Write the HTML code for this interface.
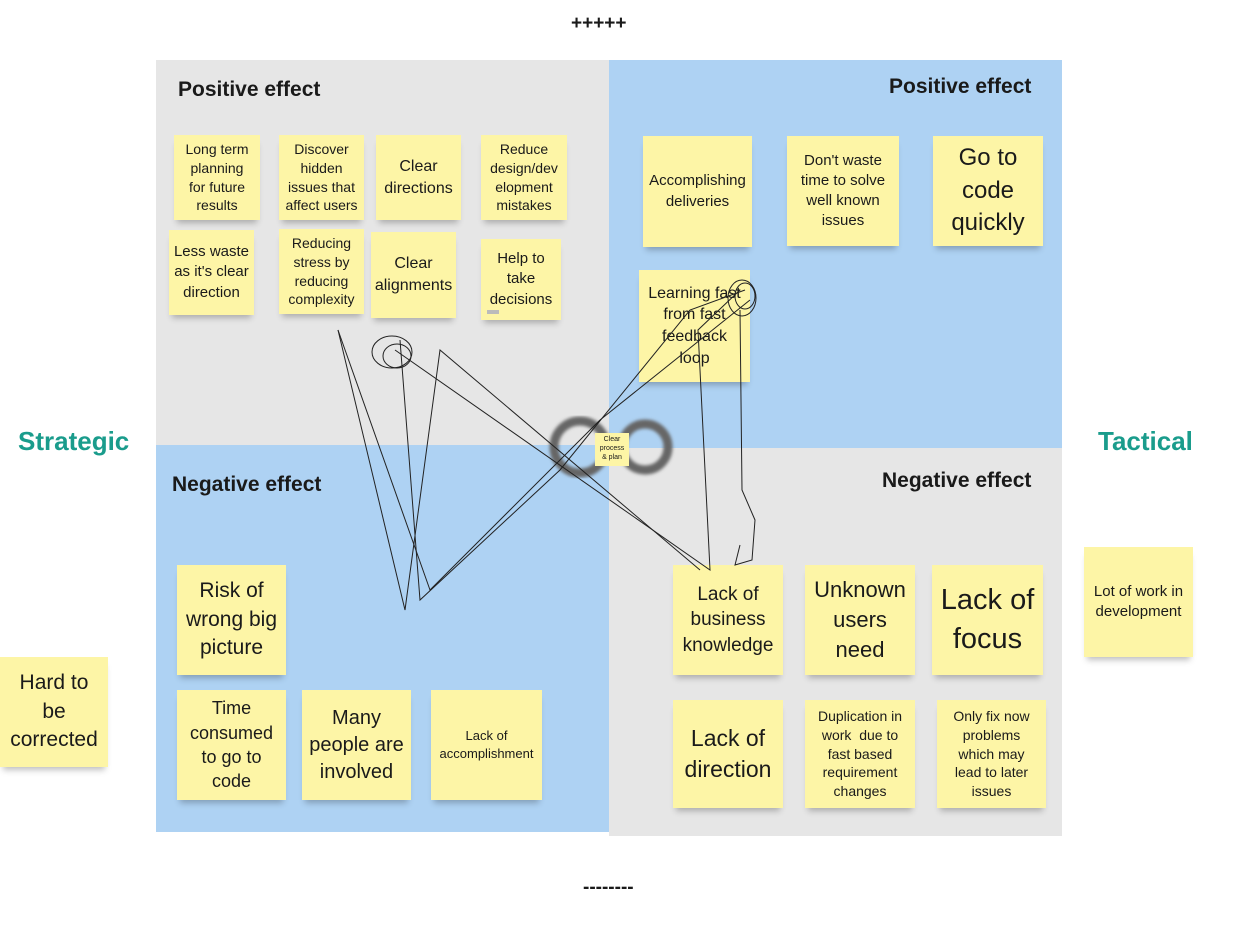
<!DOCTYPE html>
<html><head><meta charset="utf-8"><style>
body{margin:0;width:1238px;height:932px;background:#fff;position:relative;overflow:hidden;font-family:"Liberation Sans","DejaVu Sans",sans-serif;color:#1a1a1a}
.q{position:absolute}
.n{position:absolute;background:#fdf5a6;display:flex;align-items:center;justify-content:center;text-align:center;line-height:1.35;box-shadow:0 6px 6px -3px rgba(0,0,0,0.25);box-sizing:border-box;padding:2px;white-space:nowrap}
.h{position:absolute;font-weight:bold;font-size:21px;white-space:nowrap}
.t{position:absolute;font-weight:bold;font-size:26px;color:#1a9c8c}
</style></head><body>
<div class="q" style="left:156px;top:60px;width:453px;height:385px;background:#e6e6e6"></div>
<div class="q" style="left:609px;top:60px;width:453px;height:388px;background:#aed2f3"></div>
<div class="q" style="left:156px;top:445px;width:453px;height:387px;background:#aed2f3"></div>
<div class="q" style="left:609px;top:448px;width:453px;height:388px;background:#e6e6e6"></div>

<div class="h" style="left:571px;top:13px;font-size:19px">+++++</div>
<div class="h" style="left:583px;top:877px;font-size:19px">--------</div>
<div class="h" style="left:178px;top:78px">Positive effect</div>
<div class="h" style="left:889px;top:75px">Positive effect</div>
<div class="h" style="left:172px;top:473px">Negative effect</div>
<div class="h" style="left:882px;top:469px">Negative effect</div>
<div class="t" style="left:18px;top:426px">Strategic</div>
<div class="t" style="left:1098px;top:426px">Tactical</div>

<div class="n" style="left:174px;top:135px;width:86px;height:85px;font-size:14px">Long term<br>planning<br>for future<br>results</div>
<div class="n" style="left:279px;top:135px;width:85px;height:85px;font-size:14px">Discover<br>hidden<br>issues that<br>affect users</div>
<div class="n" style="left:376px;top:135px;width:85px;height:85px;font-size:16px">Clear<br>directions</div>
<div class="n" style="left:481px;top:135px;width:86px;height:85px;font-size:14px">Reduce<br>design/dev<br>elopment<br>mistakes</div>
<div class="n" style="left:169px;top:230px;width:85px;height:85px;font-size:15px">Less waste<br>as it's clear<br>direction</div>
<div class="n" style="left:279px;top:229px;width:85px;height:85px;font-size:14px">Reducing<br>stress by<br>reducing<br>complexity</div>
<div class="n" style="left:371px;top:232px;width:85px;height:86px;font-size:16px">Clear<br>alignments</div>
<div class="n" style="left:481px;top:239px;width:80px;height:81px;font-size:15px">Help to<br>take<br>decisions<span style="position:absolute;left:6px;top:71px;width:12px;height:4px;background:#bbb"></span></div>

<div class="n" style="left:643px;top:136px;width:109px;height:111px;font-size:15px">Accomplishing<br>deliveries</div>
<div class="n" style="left:787px;top:136px;width:112px;height:110px;font-size:15px">Don't waste<br>time to solve<br>well known<br>issues</div>
<div class="n" style="left:933px;top:136px;width:110px;height:110px;font-size:24px">Go to<br>code<br>quickly</div>
<div class="n" style="left:639px;top:270px;width:111px;height:112px;font-size:16px">Learning fast<br>from fast<br>feedback<br>loop</div>

<div class="n" style="left:177px;top:565px;width:109px;height:110px;font-size:21px">Risk of<br>wrong big<br>picture</div>
<div class="n" style="left:177px;top:690px;width:109px;height:110px;font-size:18px">Time<br>consumed<br>to go to<br>code</div>
<div class="n" style="left:302px;top:690px;width:109px;height:110px;font-size:20px">Many<br>people are<br>involved</div>
<div class="n" style="left:431px;top:690px;width:111px;height:110px;font-size:13px">Lack of<br>accomplishment</div>

<div class="n" style="left:673px;top:565px;width:110px;height:110px;font-size:19px">Lack of<br>business<br>knowledge</div>
<div class="n" style="left:805px;top:565px;width:110px;height:110px;font-size:22px">Unknown<br>users<br>need</div>
<div class="n" style="left:932px;top:565px;width:111px;height:110px;font-size:29px">Lack of<br>focus</div>
<div class="n" style="left:673px;top:700px;width:110px;height:108px;font-size:23px">Lack of<br>direction</div>
<div class="n" style="left:805px;top:700px;width:110px;height:108px;font-size:14px">Duplication in<br>work&nbsp; due to<br>fast based<br>requirement<br>changes</div>
<div class="n" style="left:937px;top:700px;width:109px;height:108px;font-size:14px">Only fix now<br>problems<br>which may<br>lead to later<br>issues</div>

<div class="n" style="left:1084px;top:547px;width:109px;height:110px;font-size:15px">Lot of work in<br>development</div>
<div class="n" style="left:0px;top:657px;width:108px;height:110px;font-size:21px">Hard to<br>be<br>corrected</div>

<svg style="position:absolute;left:0;top:0" width="1238" height="932">
<defs><filter id="b"><feGaussianBlur stdDeviation="1.5"/></filter></defs>
<g fill="none" stroke="#666" stroke-width="9" filter="url(#b)">
<circle cx="580" cy="447" r="26"/><circle cx="645" cy="447" r="23"/>
</g>
<g fill="none" stroke="#222" stroke-width="1">
<path d="M338,330 L405,610 L440,350 L700,570"/>
<path d="M338,330 L430,590 L600,420 L750,300"/>
<path d="M400,340 L420,600 L560,470 L690,310 L745,290"/>
<path d="M395,350 L710,570 L698,330 L740,290"/>
<path d="M740,310 L742,490 L755,520 L752,560 L735,565 L740,545"/>
<ellipse cx="392" cy="352" rx="20" ry="16"/><ellipse cx="397" cy="356" rx="14" ry="12"/>
<ellipse cx="742" cy="298" rx="14" ry="18"/><ellipse cx="745" cy="296" rx="10" ry="13"/>
</g>
</svg>
<div class="n" style="left:595px;top:433px;width:34px;height:33px;font-size:7px;line-height:1.25;box-shadow:none">Clear<br>process<br>&amp; plan</div>
</body></html>
